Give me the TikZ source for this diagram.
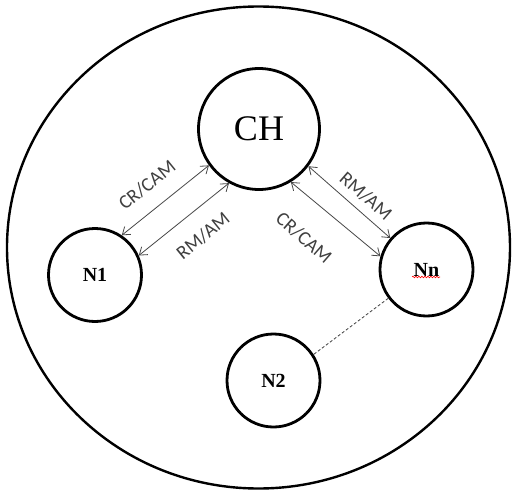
\documentclass[tikz,border=0pt]{standalone}
\usepackage{fontspec}
\setmainfont{Liberation Serif}
\newfontfamily\lblfont{Carlito}
\usetikzlibrary{arrows.meta,decorations.pathmorphing,shapes.geometric}
\begin{document}
\begin{tikzpicture}[x=1pt,y=-1pt,
  nodecircle/.style={circle,draw=black,line width=2.8pt,minimum size=93pt,inner sep=0pt,
     font=\fontsize{20}{22}\selectfont\bfseries},
  msg/.style={draw=black!72,line width=0.8pt,{Straight Barb[length=7pt,width=10pt]}-{Straight Barb[length=7pt,width=10pt]}},
  lbl/.style={font=\lblfont\fontsize{19.5}{21}\selectfont,text=black!75,inner sep=0pt}]
\useasboundingbox (0,0) rectangle (515,490);
\fill[white] (0,0) rectangle (515,490);
\node[ellipse,draw=black,line width=2.4pt,minimum width=503pt,minimum height=482pt,inner sep=0pt] (cluster) at (258.5,247.5) {};
\node[nodecircle,minimum size=121pt,font=\fontsize{36}{40}\selectfont] (CH) at (259,129) {CH};
\node[nodecircle] (N1) at (95,275) {N1};
\node[nodecircle] (Nn) at (426.5,269.5) {Nn};
\node[nodecircle] (N2) at (273.5,380.5) {N2};
\draw[msg] (N1.56) -- (CH.216);
\draw[msg] (N1.24) -- (CH.241.6);
\draw[msg] (CH.323.4) -- (Nn.139.4);
\draw[msg] (CH.301) -- (Nn.164.7);
\draw[black!75,line width=0.8pt,dash pattern=on 3pt off 2pt] (Nn.217.6) -- (N2.33.5);
\node[lbl,rotate=39] (l1) at (147,185) {CR/CAM};
\node[lbl,rotate=39] (l2) at (203,236) {RM/AM};
\node[lbl,rotate=-41] (l3) at (366,196) {RM/AM};
\node[lbl,rotate=-41] (l4) at (304,238) {CR/CAM};
\coordinate (w1) at (412,277);
\coordinate (w2) at (440,277);
\draw[red,line width=0.6pt,decorate,decoration={snake,amplitude=0.8pt,segment length=3pt}] (w1) -- (w2);
\end{tikzpicture}
\end{document}
